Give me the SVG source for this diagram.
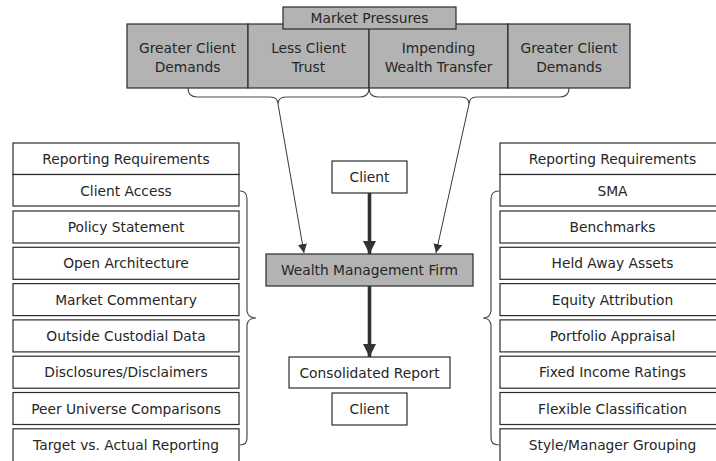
<svg xmlns="http://www.w3.org/2000/svg" width="716" height="461" viewBox="0 0 716 461">
  <defs>
    <style>
      .box { fill: #ffffff; stroke: #2b2b2b; stroke-width: 1.2; }
      .grey { fill: #b3b3b3; stroke: #2b2b2b; stroke-width: 1.2; }
      .lbl { font-family: "DejaVu Sans", "Liberation Sans", sans-serif; font-size: 13.8px; fill: #262626; text-anchor: middle; }
      .brace { fill: none; stroke: #4a4a4a; stroke-width: 1.2; }
      .thin { fill: none; stroke: #3a3a3a; stroke-width: 1; marker-end: url(#tipThin); }
      .thick { fill: none; stroke: #333333; stroke-width: 3.6; marker-end: url(#tipThick); }
    </style>
    <marker id="tipThin" viewBox="0 0 10 10" refX="10" refY="5" markerWidth="9" markerHeight="9" markerUnits="userSpaceOnUse" orient="auto">
      <path d="M0,0 L10,5 L0,10 z" fill="#333333"/>
    </marker>
    <marker id="tipThick" viewBox="0 0 10 10" refX="10" refY="5" markerWidth="13" markerHeight="13" markerUnits="userSpaceOnUse" orient="auto">
      <path d="M0,0 L10,5 L0,10 z" fill="#333333"/>
    </marker>
  </defs>

  <!-- pressures row -->
  <g id="pressure-demands-1">
    <rect class="grey" x="127" y="24" width="121" height="64"/>
    <text class="lbl" x="187.5" y="53">Greater Client</text>
    <text class="lbl" x="187.5" y="72">Demands</text>
  </g>
  <g id="pressure-trust">
    <rect class="grey" x="248" y="24" width="121" height="64"/>
    <text class="lbl" x="308.5" y="53">Less Client</text>
    <text class="lbl" x="308.5" y="72">Trust</text>
  </g>
  <g id="pressure-transfer">
    <rect class="grey" x="369" y="24" width="139" height="64"/>
    <text class="lbl" x="438.5" y="53">Impending</text>
    <text class="lbl" x="438.5" y="72">Wealth Transfer</text>
  </g>
  <g id="pressure-demands-2">
    <rect class="grey" x="508" y="24" width="122" height="64"/>
    <text class="lbl" x="569" y="53">Greater Client</text>
    <text class="lbl" x="569" y="72">Demands</text>
  </g>
  <g id="market-pressures">
    <rect class="grey" x="283" y="7" width="173" height="22"/>
    <text class="lbl" x="369.5" y="23">Market Pressures</text>
  </g>

  <!-- centre flow -->
  <g id="client-in">
    <rect class="box" x="332" y="161" width="75" height="32"/>
    <text class="lbl" x="369.5" y="182">Client</text>
  </g>
  <g id="firm">
    <rect class="grey" x="266" y="254" width="207" height="32"/>
    <text class="lbl" x="369.5" y="275">Wealth Management Firm</text>
  </g>
  <g id="report">
    <rect class="box" x="289" y="357" width="161" height="31"/>
    <text class="lbl" x="369.5" y="377.5">Consolidated Report</text>
  </g>
  <g id="client-out">
    <rect class="box" x="332" y="393" width="75" height="32"/>
    <text class="lbl" x="369.5" y="414">Client</text>
  </g>

  <!-- left requirements column -->
  <g id="left-header">
    <rect class="box" x="13" y="143" width="226" height="31.5"/>
    <text class="lbl" x="126" y="164">Reporting Requirements</text>
  </g>
  <g id="left-access">
    <rect class="box" x="13" y="174.5" width="226" height="31.5"/>
    <text class="lbl" x="126" y="195.5">Client Access</text>
  </g>
  <g id="left-policy">
    <rect class="box" x="13" y="211" width="226" height="32"/>
    <text class="lbl" x="126" y="232">Policy Statement</text>
  </g>
  <g id="left-open">
    <rect class="box" x="13" y="247.3" width="226" height="32"/>
    <text class="lbl" x="126" y="268.3">Open Architecture</text>
  </g>
  <g id="left-commentary">
    <rect class="box" x="13" y="283.6" width="226" height="32"/>
    <text class="lbl" x="126" y="304.6">Market Commentary</text>
  </g>
  <g id="left-custodial">
    <rect class="box" x="13" y="319.9" width="226" height="32"/>
    <text class="lbl" x="126" y="340.9">Outside Custodial Data</text>
  </g>
  <g id="left-disclosures">
    <rect class="box" x="13" y="356.2" width="226" height="32"/>
    <text class="lbl" x="126" y="377.2">Disclosures/Disclaimers</text>
  </g>
  <g id="left-peer">
    <rect class="box" x="13" y="392.5" width="226" height="32"/>
    <text class="lbl" x="126" y="413.5">Peer Universe Comparisons</text>
  </g>
  <g id="left-target">
    <rect class="box" x="13" y="428.8" width="226" height="40"/>
    <text class="lbl" x="126" y="449.8">Target vs. Actual Reporting</text>
  </g>

  <!-- right requirements column -->
  <g id="right-header">
    <rect class="box" x="500" y="143" width="226" height="31.5"/>
    <text class="lbl" x="612.5" y="164">Reporting Requirements</text>
  </g>
  <g id="right-sma">
    <rect class="box" x="500" y="174.5" width="226" height="31.5"/>
    <text class="lbl" x="612.5" y="195.5">SMA</text>
  </g>
  <g id="right-benchmarks">
    <rect class="box" x="500" y="211" width="226" height="32"/>
    <text class="lbl" x="612.5" y="232">Benchmarks</text>
  </g>
  <g id="right-held">
    <rect class="box" x="500" y="247.3" width="226" height="32"/>
    <text class="lbl" x="612.5" y="268.3">Held Away Assets</text>
  </g>
  <g id="right-equity">
    <rect class="box" x="500" y="283.6" width="226" height="32"/>
    <text class="lbl" x="612.5" y="304.6">Equity Attribution</text>
  </g>
  <g id="right-appraisal">
    <rect class="box" x="500" y="319.9" width="226" height="32"/>
    <text class="lbl" x="612.5" y="340.9">Portfolio Appraisal</text>
  </g>
  <g id="right-fixed">
    <rect class="box" x="500" y="356.2" width="226" height="32"/>
    <text class="lbl" x="612.5" y="377.2">Fixed Income Ratings</text>
  </g>
  <g id="right-flexible">
    <rect class="box" x="500" y="392.5" width="226" height="32"/>
    <text class="lbl" x="612.5" y="413.5">Flexible Classification</text>
  </g>
  <g id="right-style">
    <rect class="box" x="500" y="428.8" width="226" height="40"/>
    <text class="lbl" x="612.5" y="449.8">Style/Manager Grouping</text>
  </g>

  <!-- connectors: braces and arrows -->
  <g id="connectors">
    <path class="brace" d="M188,88 Q188,97 197,97 L270,97 Q278,97 278,104 Q278,97 286,97 L360,97 Q369,97 369,88"/>
    <path class="brace" d="M369,88 Q369,97 378,97 L461,97 Q469,97 469,104 Q469,97 477,97 L560,97 Q569,97 569,88"/>
    <path class="brace" d="M240,191 Q247,191 247,199 L247,311 Q248,318 256,318 Q248,318 247,325 L247,438 Q247,445 240,445"/>
    <path class="brace" d="M499,191 Q491,191 491,199 L491,311 Q490,318 483,318 Q490,318 491,325 L491,438 Q491,445 499,445"/>
    <path class="thin" d="M278,104 L304,253"/>
    <path class="thin" d="M469,104 L436,253"/>
    <path class="thick" d="M369.5,193 L369.5,254"/>
    <path class="thick" d="M369.5,286 L369.5,357"/>
  </g>
</svg>
